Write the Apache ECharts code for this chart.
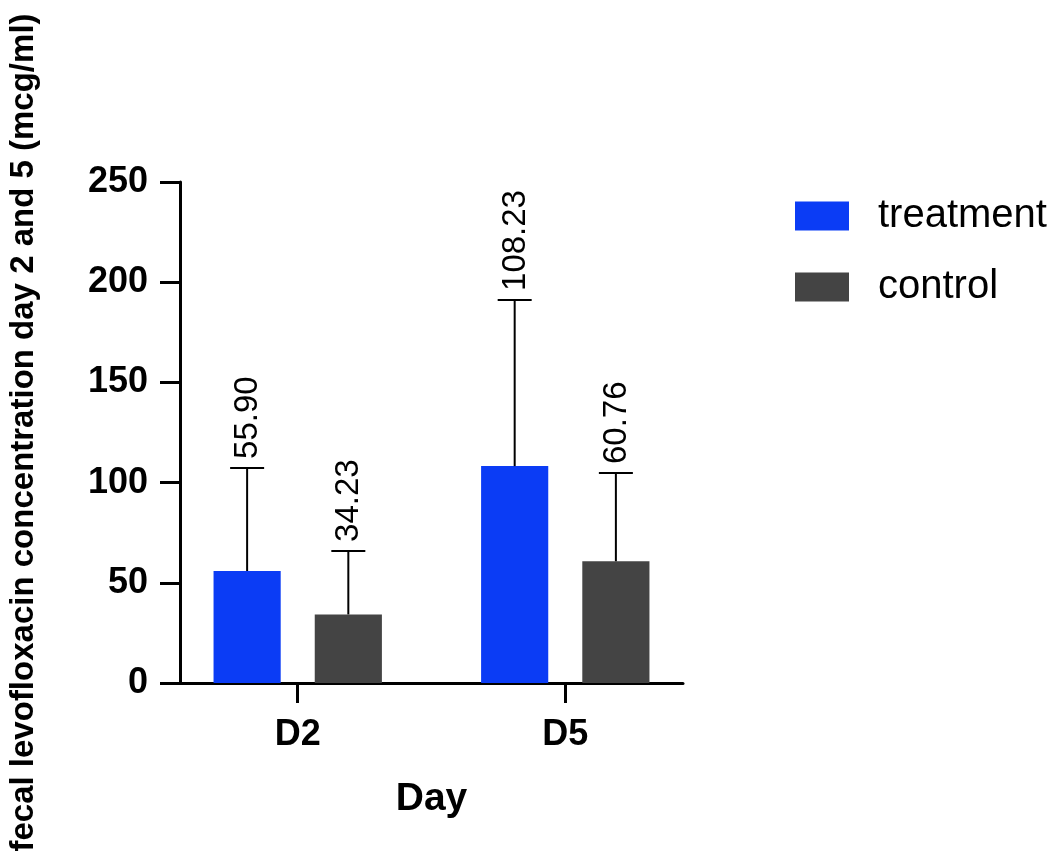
<!DOCTYPE html>
<html>
<head>
<meta charset="utf-8">
<style>
  html, body { margin: 0; padding: 0; background: #fff; }
  #main { width: 1059px; height: 856px; }
</style>
<script src="https://cdn.jsdelivr.net/npm/echarts@6/dist/echarts.min.js"></script>
</head>
<body>
<div id="main"></div>
<script>
// values
var categories = ['D2', 'D5'];
var treatmentMean = [55.90, 108.23];
var controlMean = [34.23, 60.76];
// upper whisker length (SD), estimated from the cap positions
var treatmentSD = [51.4, 82.9];
var controlSD = [31.7, 44.0];
var yTicks = [0, 50, 100, 150, 200, 250];

var BLUE = '#0b3cf5';
var GREY = '#444444';
var FONT = '"Liberation Sans", Arial, Helvetica, sans-serif';

var barWidthFrac = 0.251;
var barGapFrac = 0.507;
// distance from category centre to each bar centre, as part of the band
var offsetFrac = (barWidthFrac + barWidthFrac * barGapFrac) / 2;

// x is a value axis (category index) so the groups can sit closer to the axis ends
function pairs(values) {
  return values.map(function (v, i) { return [i, v]; });
}
function errorData(means, sds) {
  return means.map(function (m, i) { return [i, m, sds[i]]; });
}
var catIdx = categories.map(function (c, i) { return i; });

function makeErrorRender(sign) {
  return function (params, api) {
    var i = api.value(0);
    var mean = api.value(1);
    var sd = api.value(2);
    var base = api.coord([i, mean]);
    var top = api.coord([i, mean + sd]);
    var band = api.size([1, 0])[0];
    var x = base[0] + sign * band * offsetFrac;
    var lineStyle = { stroke: '#000', lineWidth: 2 };
    return {
      type: 'group',
      children: [
        { type: 'line', shape: { x1: x, y1: base[1], x2: x, y2: top[1] }, style: lineStyle },
        { type: 'line', shape: { x1: x - 17, y1: top[1], x2: x + 17, y2: top[1] }, style: lineStyle },
        {
          type: 'text',
          x: x + 1,
          y: top[1] - 9,
          rotation: Math.PI / 2,
          style: {
            text: mean.toFixed(2),
            fill: '#000',
            fontSize: 33,
            fontFamily: FONT,
            align: 'left',
            verticalAlign: 'middle'
          }
        }
      ]
    };
  };
}

var chart = echarts.init(document.getElementById('main'));
chart.setOption({
  backgroundColor: '#fff',
  animation: false,
  legend: {
    data: ['treatment', 'control'],
    orient: 'vertical',
    left: 795,
    top: 196,
    padding: 0,
    icon: 'rect',
    itemWidth: 54,
    itemHeight: 29,
    itemGap: 31,
    textStyle: { fontSize: 40, fontFamily: FONT, color: '#000', lineHeight: 29, padding: [0, 0, 0, 24] }
  },
  grid: { left: 180, right: 376, top: 182, bottom: 173, containLabel: false },
  xAxis: {
    type: 'value',
    min: -0.44,
    max: 1.44,
    name: 'Day',
    nameLocation: 'middle',
    nameGap: 97,
    nameTextStyle: { fontSize: 39, fontWeight: 'bold', fontFamily: FONT, color: '#000', verticalAlign: 'top' },
    axisLine: { show: true, onZero: false, lineStyle: { color: '#000', width: 3 } },
    axisTick: { show: true, customValues: catIdx, length: 20, lineStyle: { color: '#000', width: 3 } },
    axisLabel: {
      customValues: catIdx,
      margin: 34,
      fontSize: 36,
      fontWeight: 'bold',
      fontFamily: FONT,
      color: '#000',
      formatter: function (v) { return categories[Math.round(v)]; }
    },
    splitLine: { show: false }
  },
  yAxis: {
    type: 'value',
    min: yTicks[0],
    max: yTicks[yTicks.length - 1],
    interval: yTicks[1] - yTicks[0],
    name: 'fecal levofloxacin concentration day 2 and 5 (mcg/ml)',
    nameLocation: 'middle',
    nameGap: 140,
    nameTextStyle: { fontSize: 33, fontWeight: 'bold', fontFamily: FONT, color: '#000' },
    axisLine: { show: true, onZero: false, lineStyle: { color: '#000', width: 3 } },
    axisTick: { show: true, length: 20, lineStyle: { color: '#000', width: 3 } },
    axisLabel: { margin: 32, fontSize: 36, fontWeight: 'bold', fontFamily: FONT, color: '#000' },
    splitLine: { show: false }
  },
  series: [
    {
      name: 'treatment',
      type: 'bar',
      data: pairs(treatmentMean),
      barWidth: (barWidthFrac * 100) + '%',
      barGap: (barGapFrac * 100) + '%',
      itemStyle: { color: BLUE }
    },
    {
      name: 'control',
      type: 'bar',
      data: pairs(controlMean),
      barWidth: (barWidthFrac * 100) + '%',
      barGap: (barGapFrac * 100) + '%',
      itemStyle: { color: GREY }
    },
    {
      type: 'custom',
      name: 'treatment-error',
      renderItem: makeErrorRender(-1),
      data: errorData(treatmentMean, treatmentSD),
      encode: { x: 0, y: 1 },
      z: 10,
      silent: true
    },
    {
      type: 'custom',
      name: 'control-error',
      renderItem: makeErrorRender(1),
      data: errorData(controlMean, controlSD),
      encode: { x: 0, y: 1 },
      z: 10,
      silent: true
    }
  ]
});
</script>
</body>
</html>
